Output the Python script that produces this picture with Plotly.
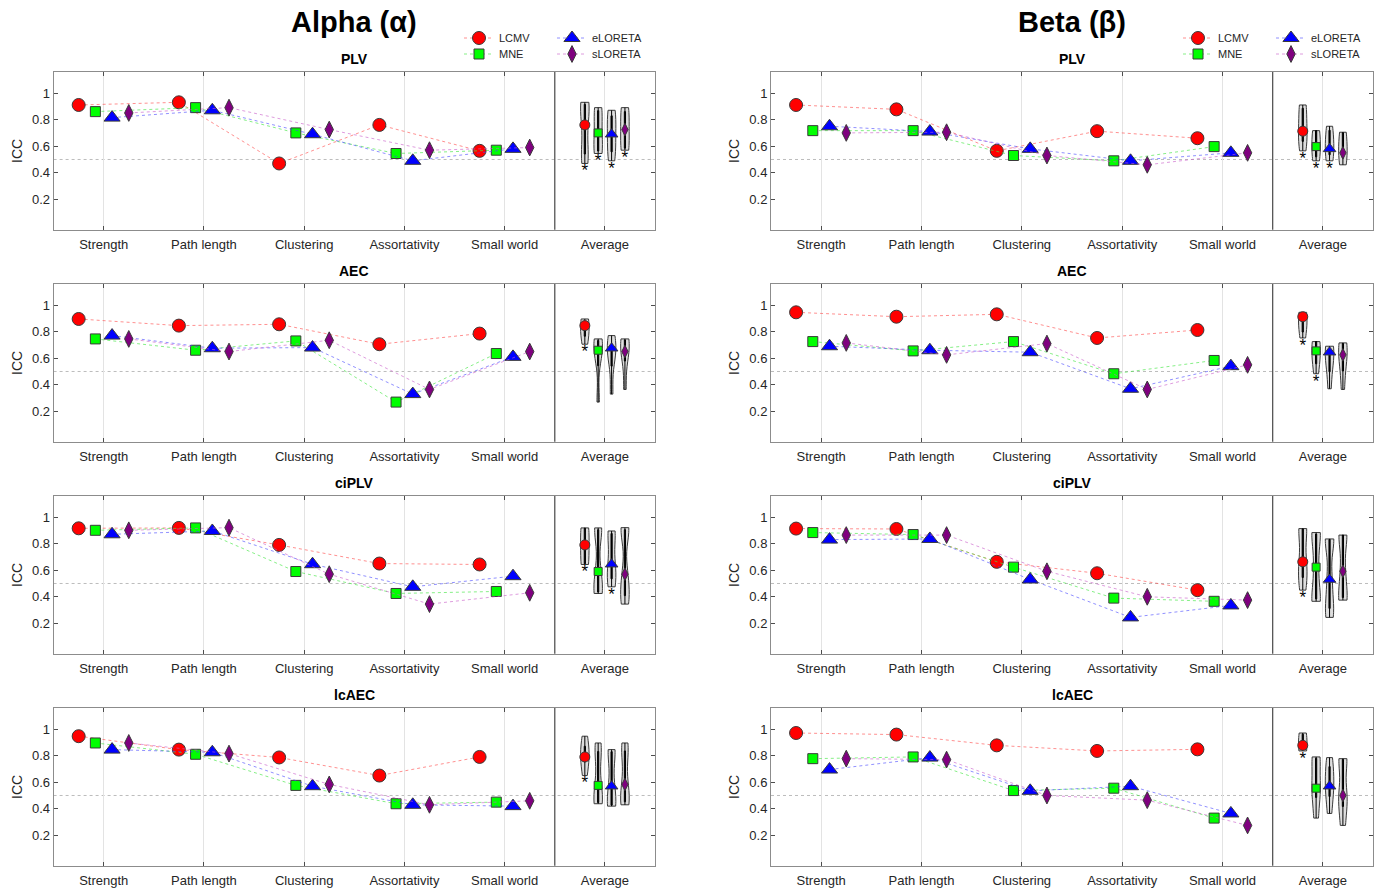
import numpy as np
import plotly.graph_objects as go

# ---------------- data ----------------
categories = ["Strength", "Path length", "Clustering", "Assortativity", "Small world", "Average"]
methods = ["LCMV", "MNE", "eLORETA", "sLORETA"]
metrics = ["PLV", "AEC", "ciPLV", "lcAEC"]
bands = ["Alpha (α)", "Beta (β)"]

# ICC values; each row = one method (LCMV, MNE, eLORETA, sLORETA) over 5 graph measures
alpha_plv = [[0.91, 0.93, 0.47, 0.76, 0.565],
             [0.86, 0.89, 0.70, 0.545, 0.57],
             [0.815, 0.87, 0.69, 0.49, 0.58],
             [0.85, 0.89, 0.725, 0.57, 0.59]]
beta_plv = [[0.91, 0.877, 0.565, 0.713, 0.66],
            [0.717, 0.717, 0.53, 0.49, 0.597],
            [0.75, 0.71, 0.58, 0.49, 0.55],
            [0.70, 0.705, 0.53, 0.46, 0.55]]
alpha_aec = [[0.895, 0.845, 0.855, 0.705, 0.785],
             [0.745, 0.66, 0.73, 0.27, 0.635],
             [0.77, 0.675, 0.68, 0.33, 0.61],
             [0.745, 0.65, 0.735, 0.365, 0.65]]
beta_aec = [[0.945, 0.912, 0.93, 0.752, 0.812],
            [0.725, 0.655, 0.725, 0.483, 0.583],
            [0.69, 0.66, 0.645, 0.37, 0.54],
            [0.715, 0.625, 0.71, 0.365, 0.55]]
alpha_ciplv = [[0.915, 0.918, 0.79, 0.65, 0.643],
               [0.90, 0.918, 0.59, 0.425, 0.44],
               [0.87, 0.895, 0.645, 0.475, 0.555],
               [0.90, 0.92, 0.57, 0.345, 0.43]]
beta_ciplv = [[0.913, 0.91, 0.663, 0.577, 0.45],
              [0.883, 0.868, 0.623, 0.39, 0.366],
              [0.83, 0.835, 0.53, 0.245, 0.335],
              [0.864, 0.864, 0.592, 0.40, 0.375]]
alpha_lcaec = [[0.946, 0.845, 0.786, 0.65, 0.79],
               [0.895, 0.81, 0.576, 0.438, 0.45],
               [0.845, 0.825, 0.57, 0.43, 0.42],
               [0.895, 0.815, 0.583, 0.43, 0.46]]
beta_lcaec = [[0.97, 0.958, 0.877, 0.835, 0.847],
              [0.777, 0.79, 0.537, 0.555, 0.33],
              [0.695, 0.785, 0.535, 0.57, 0.365],
              [0.777, 0.77, 0.50, 0.465, 0.275]]

# significance asterisks on the "Average" violins (LCMV, MNE, eLORETA, sLORETA)
alpha_plv_sig = [1, 1, 1, 1]
beta_plv_sig = [1, 1, 1, 0]
alpha_aec_sig = [1, 0, 0, 0]
beta_aec_sig = [1, 1, 0, 0]
alpha_ciplv_sig = [1, 0, 1, 0]
beta_ciplv_sig = [1, 0, 0, 0]
alpha_lcaec_sig = [1, 0, 0, 0]
beta_lcaec_sig = [1, 0, 0, 0]

panel_values = [[alpha_plv, beta_plv], [alpha_aec, beta_aec],
                [alpha_ciplv, beta_ciplv], [alpha_lcaec, beta_lcaec]]
panel_sig = [[alpha_plv_sig, beta_plv_sig], [alpha_aec_sig, beta_aec_sig],
             [alpha_ciplv_sig, beta_ciplv_sig], [alpha_lcaec_sig, beta_lcaec_sig]]

# ---------------- styles ----------------
W, H = 1384, 889
FONT = "Liberation Sans, Arial, Helvetica, sans-serif"
TXT = "#262626"
marker_fill = ["#ff0000", "#00ff00", "#0000ff", "#7f007f"]
line_col = ["rgba(255,70,70,0.6)", "rgba(70,230,70,0.65)", "rgba(70,70,255,0.6)", "rgba(200,90,200,0.6)"]
symbols = ["circle", "square", "triangle-up", "diamond-tall"]
sizes_main = [13, 10, 14, 12]
sizes_avg = [10, 8, 11, 9]
off_main = [-0.25, -1 / 12, 1 / 12, 0.25]
off_avg = [-0.2, -0.067, 0.067, 0.2]

col_px = [(53.6, 655.0), (771.0, 1373.0)]
row_top_px = [72, 284, 496, 708]
YR = [-0.028, 1.158]
panel_h = 157.7

fig = go.Figure()
shapes, annotations = [], []
layout_axes = {}

legend_pos = {0: [(463, 38), (463, 54), (556, 38), (556, 54)],
              1: [(1182, 38), (1182, 54), (1275, 38), (1275, 54)]}
legend_ids = {}
k = 1
for c in range(2):
    for m in range(4):
        legend_ids[(c, m)] = "legend" if k == 1 else f"legend{k}"
        k += 1

for r, metric in enumerate(metrics):
    for c in range(2):
        idx = r * 2 + c + 1
        xa = "x" if idx == 1 else f"x{idx}"
        ya = "y" if idx == 1 else f"y{idx}"
        xl = "xaxis" if idx == 1 else f"xaxis{idx}"
        yl = "yaxis" if idx == 1 else f"yaxis{idx}"
        x0p, x1p = col_px[c]
        top = row_top_px[r]
        bot = top + panel_h
        layout_axes[xl] = dict(
            domain=[x0p / W, x1p / W], anchor=ya, range=[-0.5, 5.5],
            tickvals=list(range(6)), ticktext=categories, showgrid=True,
            gridcolor="#e3e3e3", gridwidth=1, ticks="inside", ticklen=4,
            tickcolor="#4d4d4d", mirror="ticks", showline=True, linecolor="#8c8c8c",
            linewidth=1, zeroline=False, tickfont=dict(size=13, color=TXT, family=FONT),
            ticklabelstandoff=3, fixedrange=True)
        layout_axes[yl] = dict(
            domain=[1 - bot / H, 1 - top / H], anchor=xa, range=YR,
            tickvals=[0.2, 0.4, 0.6, 0.8, 1.0], ticktext=["0.2", "0.4", "0.6", "0.8", "1"],
            showgrid=False, ticks="inside", ticklen=4, tickcolor="#4d4d4d",
            mirror="ticks", showline=True, linecolor="#8c8c8c", linewidth=1,
            zeroline=False, tickfont=dict(size=13, color=TXT, family=FONT),
            title=dict(text="ICC", font=dict(size=14, color=TXT, family=FONT), standoff=6),
            fixedrange=True)

        vals = panel_values[r][c]
        sig = panel_sig[r][c]
        xs = np.arange(5)
        for m in range(4):
            show = (r == 0)
            tr_kwargs = {}
            if show:
                tr_kwargs["legend"] = legend_ids[(c, m)]
            fig.add_trace(go.Scatter(
                x=xs + off_main[m], y=vals[m], mode="lines+markers", name=methods[m],
                xaxis=xa, yaxis=ya, showlegend=show,
                line=dict(color=line_col[m], width=1, dash="dot"),
                marker=dict(symbol=symbols[m], size=sizes_main[m], color=marker_fill[m],
                            line=dict(color="#3a3a3a", width=1)),
                hoverinfo="skip", **tr_kwargs))
        # Average violins
        for m in range(4):
            xpos = 5 + off_avg[m]
            fig.add_trace(go.Violin(
                x0=xpos, y=vals[m], xaxis=xa, yaxis=ya, width=0.085,
                spanmode="hard", bandwidth=0.11, points=False, showlegend=False,
                fillcolor="#dedede", line=dict(color="#3a3a3a", width=1),
                box=dict(visible=True, width=0.14, fillcolor="#000000",
                         line=dict(color="#000000", width=1)),
                meanline=dict(visible=False), hoverinfo="skip", orientation="v"))
        for m in range(4):
            xpos = 5 + off_avg[m]
            fig.add_trace(go.Scatter(
                x=[xpos], y=[float(np.median(vals[m]))], mode="markers",
                xaxis=xa, yaxis=ya, showlegend=False, hoverinfo="skip",
                marker=dict(symbol=symbols[m], size=sizes_avg[m], color=marker_fill[m],
                            line=dict(color="#3a3a3a", width=1))))
            if sig[m]:
                fig.add_trace(go.Scatter(
                    x=[xpos], y=[min(vals[m]) - 0.065], mode="text", text=["*"],
                    textposition="middle center", xaxis=xa, yaxis=ya, showlegend=False,
                    hoverinfo="skip", textfont=dict(size=17, color="#000000", family=FONT)))
        # separator and 0.5 reference
        shapes.append(dict(type="line", xref=xa, yref=f"{ya} domain", x0=4.5, x1=4.5,
                           y0=0, y1=1, line=dict(color="#555555", width=1.3), layer="above"))
        shapes.append(dict(type="line", xref=f"{xa} domain", yref=ya, x0=0, x1=1,
                           y0=0.5, y1=0.5, line=dict(color="#bdbdbd", width=1, dash="dot"),
                           layer="below"))
        annotations.append(dict(text=f"<b>{metric}</b>", xref="paper", yref="paper",
                                x=((x0p + x1p) / 2) / W, y=1 - (top - 3) / H,
                                xanchor="center", yanchor="bottom", showarrow=False,
                                font=dict(size=14, color="#000000", family=FONT)))

for c in range(2):
    x0p, x1p = col_px[c]
    annotations.append(dict(text=f"<b>{bands[c]}</b>", xref="paper", yref="paper",
                            x=((x0p + x1p) / 2) / W, y=1 - 22 / H, xanchor="center",
                            yanchor="middle", showarrow=False,
                            font=dict(size=29, color="#000000", family=FONT)))

legends = {}
for (c, m), lid in legend_ids.items():
    px_, py_ = legend_pos[c][m]
    legends[lid] = dict(x=(px_ - 4) / W, y=1 - py_ / H, xanchor="left", yanchor="middle",
                        bgcolor="rgba(0,0,0,0)", borderwidth=0,
                        font=dict(size=11, color=TXT, family=FONT),
                        itemwidth=30, tracegroupgap=0)

fig.update_layout(
    width=W, height=H, margin=dict(l=0, r=0, t=0, b=0),
    paper_bgcolor="white", plot_bgcolor="white",
    font=dict(family=FONT, color=TXT),
    violinmode="overlay", violingap=0, violingroupgap=0,
    shapes=shapes, annotations=annotations, **layout_axes, **legends)

fig.write_html("out.html")
